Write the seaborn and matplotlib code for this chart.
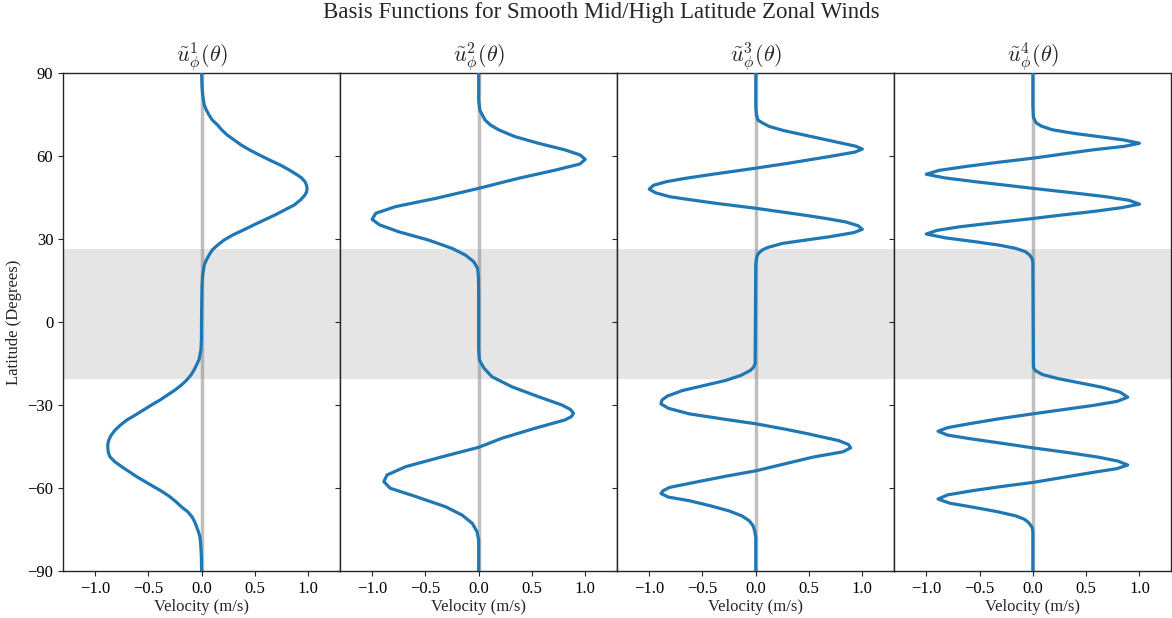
import matplotlib
matplotlib.use("Agg")
import matplotlib.pyplot as plt
import seaborn as sns
import pandas as pd

# ---- data (latitude in degrees, velocity in m/s) ----
lat1 = [90, 85, 82.0, 78.4, 76.6, 74.8, 73.0, 71.2, 69.4, 67.6, 64.0, 62.2, 60.4, 58.5, 56.7, 55.0, 53.1,
        52.0, 50.7, 49.4, 48.1, 47.0, 45.9, 44.2, 42.3, 40.5, 38.7, 36.9, 35.1, 33.2, 31.4, 29.6, 27.8,
        26.0, 24.2, 22.4, 20.6, 17.0, 13, 8, 3, -2, -6.5, -10.1, -13.7, -17.3, -19.2, -21.0, -22.8, -24.6,
        -26.4, -28.2, -30.0, -31.8, -33.6, -35.4, -37.2, -39.0, -41.0, -42.6, -44.1, -45.6, -47.2, -48.7,
        -50.5, -52.3, -54.1, -55.9, -57.7, -59.5, -61.3, -63.1, -65.0, -66.8, -68.6, -70.4, -72.2, -74.0,
        -75.8, -77.6, -81, -85, -90]
u1 = [0, 0.004, 0.01, 0.025, 0.045, 0.07, 0.10, 0.15, 0.19, 0.24, 0.37, 0.45, 0.54, 0.64, 0.74, 0.82, 0.90,
      0.94, 0.97, 0.985, 0.99, 0.985, 0.97, 0.93, 0.87, 0.78, 0.69, 0.59, 0.49, 0.39, 0.29, 0.21, 0.15,
      0.10, 0.07, 0.045, 0.025, 0.01, 0.004, 0.002, 0.0, -0.001, -0.002, -0.006, -0.025, -0.07, -0.10, -0.14, -0.19, -0.25,
      -0.32, -0.39, -0.47, -0.545, -0.62, -0.70, -0.76, -0.81, -0.85, -0.87, -0.88, -0.88, -0.875, -0.86,
      -0.815, -0.75, -0.68, -0.61, -0.53, -0.45, -0.37, -0.30, -0.24, -0.19, -0.13, -0.09, -0.065, -0.047,
      -0.03, -0.016, -0.007, -0.002, 0]

lat2 = [90, 80.2, 76.6, 73.0, 71.2, 69.4, 67.0, 64.6, 62.2, 60.4, 58.8, 57.1, 54.9, 51.9, 48.3, 44.7,
        41.7, 39.3, 37.1, 35.1, 32.6, 29.6, 26.6, 24.2, 21.8, 19.4, 16, 10, 0, -10, -13.7, -16.7, -19.8,
        -23.4, -27.0, -30.0, -31.6, -33.0, -34.2, -35.4, -38.4, -42.0, -45.3, -48.7, -52.3, -55.3, -57.7,
        -60.1, -63.1, -66.8, -69.8, -72.8, -75.8, -78.8, -90]
u2 = [0, 0.0, 0.01, 0.06, 0.11, 0.19, 0.34, 0.56, 0.81, 0.95, 1.0, 0.95, 0.72, 0.37, 0.0, -0.40,
      -0.78, -0.965, -1.0, -0.93, -0.75, -0.47, -0.25, -0.125, -0.047, -0.01, -0.002, 0, 0, 0, 0.006, 0.05, 0.125,
      0.31, 0.56, 0.78, 0.86, 0.89, 0.87, 0.81, 0.53, 0.22, 0.0, -0.34, -0.685, -0.86, -0.89,
      -0.83, -0.59, -0.31, -0.156, -0.06, -0.016, 0, 0]

lat3 = [90, 78, 75, 73, 72, 70.7, 69.2, 67.7, 66.2, 64.6, 63.5, 62.5, 61.4, 59.8, 58.6, 57.4, 55.6, 53.2,
        51.8, 50.7, 49.4, 48.0, 46.7, 45.3, 44.1, 42.9, 41.1, 38.7, 37.4, 36.2, 34.8, 33.5, 32.3, 30.8,
        29.5, 28.4, 26.9, 26.0, 24.8, 23.6, 21.1, -15.1, -16.3, -17.5, -19.3, -21.1, -23.0, -24.8, -26.8,
        -28.2, -29.6, -31.2, -33.2, -35.0, -36.8, -38.7, -40.5, -42.9, -44.3, -45.5, -46.9, -48.9, -51.3,
        -53.8, -55.6, -57.4, -59.8, -61.0, -62.0, -63.3, -64.6, -66.5, -68.3, -70.1, -71.9, -73.7, -75.5,
        -78, -90]
u3 = [0, 0.0, 0.005, 0.02, 0.06, 0.125, 0.26, 0.44, 0.62, 0.81, 0.94, 1.0, 0.93, 0.69, 0.50, 0.31, 0.0, -0.44,
      -0.68, -0.84, -0.96, -1.0, -0.94, -0.81, -0.60, -0.375, 0.0, 0.44, 0.66, 0.84, 0.96, 1.0, 0.92, 0.69,
      0.45, 0.25, 0.11, 0.06, 0.025, 0.01, 0, -0.006, -0.02, -0.05, -0.14, -0.28, -0.49, -0.69, -0.83,
      -0.88, -0.89, -0.82, -0.625, -0.32, 0.0, 0.27, 0.50, 0.78, 0.87, 0.89, 0.82, 0.53, 0.27,
      0.0, -0.26, -0.50, -0.81, -0.87, -0.89, -0.82, -0.625, -0.42, -0.25, -0.13, -0.06, -0.025, -0.01,
      0, 0]

lat4 = [90, 78, 74, 72, 70.8, 69.5, 68.2, 67.0, 65.8, 64.6, 63.5, 62.2, 60.7, 59.2, 57.7, 56.2, 54.8, 53.4,
        52.1, 50.7, 49.5, 48.3, 46.8, 45.3, 44.0, 42.6, 41.3, 39.9, 38.7, 37.4, 35.9, 34.4, 33.1, 31.8,
        30.4, 29.0, 27.8, 26.6, 25.4, 24.2, 22.9, 21.7, -16.3, -17.5, -19.0, -20.5, -22.0, -23.6, -25.4,
        -27.2, -28.7, -30.2, -31.7, -33.2, -35.0, -36.8, -38.2, -39.5, -40.9, -42.3, -43.9, -45.5, -47.2,
        -48.9, -50.3, -51.7, -53.0, -54.4, -56.2, -58.0, -59.5, -61.0, -62.5, -64.0, -65.5, -67.1, -68.6,
        -70.1, -71.3, -72.5, -74.3, -76, -90]
u4 = [0, 0, 0.005, 0.03, 0.08, 0.18, 0.38, 0.62, 0.85, 1.0, 0.86, 0.56, 0.28, 0.0, -0.33, -0.63, -0.88, -1.0,
      -0.83, -0.54, -0.27, 0.0, 0.35, 0.68, 0.90, 1.0, 0.83, 0.56, 0.28, 0.0, -0.35, -0.69, -0.90, -1.0,
      -0.82, -0.54, -0.32, -0.16, -0.07, -0.03, -0.008, 0, 0.005, 0.02, 0.09, 0.24, 0.44, 0.65, 0.82,
      0.89, 0.79, 0.56, 0.28, 0.0, -0.32, -0.60, -0.80, -0.89, -0.80, -0.57, -0.28, 0.0, 0.33,
      0.62, 0.80, 0.89, 0.79, 0.56, 0.28, 0.0, -0.30, -0.57, -0.80, -0.89, -0.78, -0.54, -0.33,
      -0.16, -0.08, -0.04, -0.006, 0, 0]

panel_titles = [r"$\tilde{u}_{\phi}^{1}(\theta)$", r"$\tilde{u}_{\phi}^{2}(\theta)$",
                r"$\tilde{u}_{\phi}^{3}(\theta)$", r"$\tilde{u}_{\phi}^{4}(\theta)$"]
band = [-20.6, 26.4]
yticks = [-90, -60, -30, 0, 30, 60, 90]
xticks = [-1.0, -0.5, 0.0, 0.5, 1.0]
suptitle = "Basis Functions for Smooth Mid/High Latitude Zonal Winds"

# ---- style ----
sns.set_style("ticks")
plt.rcParams["font.family"] = ["Liberation Serif", "DejaVu Serif"]
plt.rcParams["mathtext.fontset"] = "cm"
plt.rcParams["axes.edgecolor"] = "#262626"
plt.rcParams["xtick.color"] = "#262626"
plt.rcParams["ytick.color"] = "#262626"
plt.rcParams["xtick.labelcolor"] = "black"
plt.rcParams["ytick.labelcolor"] = "black"

fig, axes = plt.subplots(1, 4, sharey=True, figsize=(11.72, 6.18), dpi=100)
fig.subplots_adjust(left=0.0538, right=0.9995, top=0.8819, bottom=0.0761, wspace=0)

series = [(lat1, u1), (lat2, u2), (lat3, u3), (lat4, u4)]
for ax, (lat, u), title in zip(axes, series, panel_titles):
    df = pd.DataFrame({"lat": lat, "u": u})
    ax.axhspan(band[0], band[1], color="gray", alpha=0.2, lw=0, zorder=0)
    ax.axvline(0, color="gray", alpha=0.5, lw=2.5, zorder=1)
    sns.lineplot(data=df, x="u", y="lat", sort=False, estimator=None, ax=ax,
                 color="#1f77b4", lw=2.3, zorder=3)
    ax.set_xlim(-1.3, 1.3)
    ax.set_ylim(-90, 90)
    ax.set_xticks(xticks)
    ax.set_yticks(yticks)
    ax.set_xlabel("Velocity (m/s)", fontsize=12, labelpad=2)
    ax.set_ylabel("")
    ax.set_title(title, fontsize=16, pad=4)
    ax.tick_params(labelsize=12)
    for s in ax.spines.values():
        s.set_linewidth(1.0)

axes[0].set_ylabel("Latitude (Degrees)", fontsize=12)
fig.suptitle(suptitle, fontsize=16.5, x=0.513, y=0.997)

fig.savefig("out.png", dpi=100)
